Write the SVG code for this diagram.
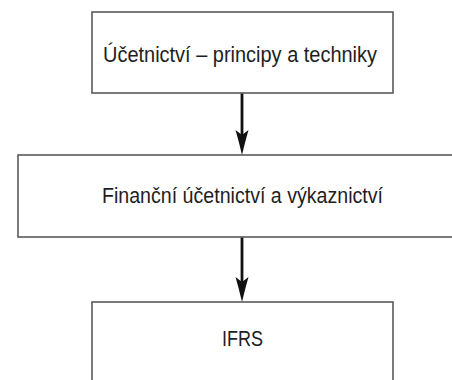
<svg xmlns="http://www.w3.org/2000/svg" width="452" height="380" viewBox="0 0 452 380">
<style>
.box{fill:#fff;stroke:#5a5a5a;stroke-width:1.6}
.lbl{font-family:"Liberation Sans",Arial,sans-serif;font-size:22px;fill:#1e1e1e;text-anchor:middle}
.shaft{stroke:#111;stroke-width:2.8;fill:none}
.head{fill:#111;stroke:none}
</style>
<rect width="452" height="380" fill="#fff"/>
<g id="connectors">
<line class="shaft" x1="242" y1="93" x2="242" y2="136"/>
<path class="head" d="M242,155 Q239,142 235.5,130 L242,135 L248.5,130 Q245,142 242,155 Z"/>
<line class="shaft" x1="242" y1="237" x2="242" y2="283"/>
<path class="head" d="M242,302 Q239,289 235.5,277 L242,282 L248.5,277 Q245,289 242,302 Z"/>
</g>
<g id="node1">
<rect class="box" x="92" y="12" width="301" height="81"/>
<text class="lbl" x="240" y="62" textLength="274" lengthAdjust="spacingAndGlyphs">Účetnictví – principy a techniky</text>
</g>
<g id="node2">
<rect class="box" x="18" y="155" width="440" height="82"/>
<text class="lbl" x="242.5" y="203" textLength="281" lengthAdjust="spacingAndGlyphs">Finanční účetnictví a výkaznictví</text>
</g>
<g id="node3">
<rect class="box" x="92" y="302" width="301" height="84"/>
<text class="lbl" x="242.5" y="346" textLength="41" lengthAdjust="spacingAndGlyphs">IFRS</text>
</g>
</svg>
